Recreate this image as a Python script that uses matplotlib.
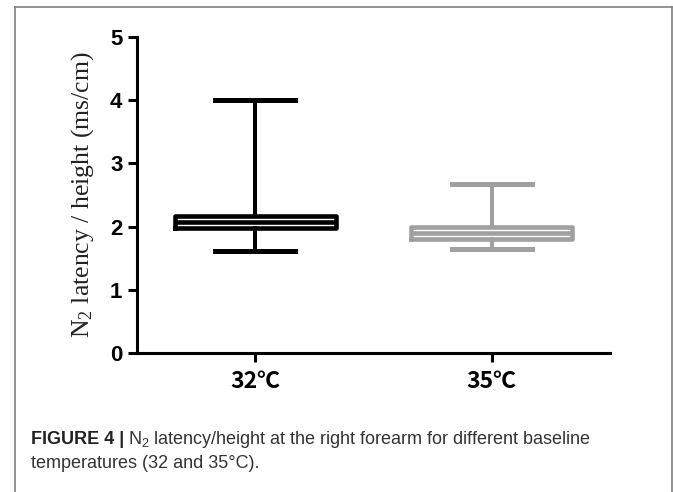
import matplotlib
matplotlib.use("Agg")
import matplotlib.pyplot as plt
from matplotlib.lines import Line2D

# ---- data ----
categories = ["32℃", "35℃"]
whisker_low = [1.62, 1.65]
q1 = [1.985, 1.81]
median = [2.075, 1.905]
q3 = [2.165, 1.995]
whisker_high = [4.00, 2.67]
colors = ["#000000", "#a0a0a0"]
yticks = [0, 1, 2, 3, 4, 5]

W, H = 673, 492
fig = plt.figure(figsize=(W / 100, H / 100), dpi=100)

ax = fig.add_axes([137 / W, (H - 353) / H, (610 - 137) / W, (353 - 37) / H])

for i in range(len(categories)):
    stats = [dict(med=median[i], q1=q1[i], q3=q3[i],
                  whislo=whisker_low[i], whishi=whisker_high[i], fliers=[])]
    c = colors[i]
    ax.bxp(stats, positions=[i], widths=0.68, showfliers=False,
           boxprops=dict(color=c, linewidth=3.3),
           medianprops=dict(color=c, linewidth=3.3, solid_capstyle="butt"),
           whiskerprops=dict(color=c, linewidth=2.9),
           capprops=dict(color=c, linewidth=3.6),
           capwidths=0.3375)

ax.set_xlim(-0.5, 1.5)
ax.set_ylim(0, 5)
ax.set_yticks(yticks)
ax.set_yticklabels([str(v) for v in yticks], fontsize=16, fontweight="bold",
                   family="Liberation Sans")
ax.set_xticks(range(len(categories)))
ax.set_xticklabels(categories, fontsize=16.5, fontweight="bold",
                   family=["Noto Sans CJK SC", "DejaVu Sans"])
ax.tick_params(axis="y", length=6.5, width=2.2, pad=4)
ax.tick_params(axis="x", length=6.5, width=2.2, pad=6)
for s in ["top", "right"]:
    ax.spines[s].set_visible(False)
for s in ["left", "bottom"]:
    ax.spines[s].set_linewidth(2.2)

ax.set_ylabel(r"$\mathregular{N_2}$ latency / height (ms/cm)", family="Liberation Serif",
              fontsize=18.5, color="#222222", labelpad=10)

# ---- figure border ----
bc = "#808080"
fig.add_artist(Line2D([14.5 / W, 14.5 / W], [0, (H - 7) / H], color=bc, lw=1.2,
                      transform=fig.transFigure))
fig.add_artist(Line2D([14.5 / W, 671.5 / W], [(H - 7) / H, (H - 7) / H], color=bc, lw=1.2,
                      transform=fig.transFigure))
fig.add_artist(Line2D([671.5 / W, 671.5 / W], [0, (H - 7) / H], color=bc, lw=1.2,
                      transform=fig.transFigure))

# ---- caption ----
cap_fs = 13
t1 = fig.text(31 / W, (H - 440) / H, "FIGURE 4 |", fontsize=cap_fs, fontweight="bold",
              family="Liberation Sans", color="#222222", va="center")
fig.canvas.draw()
r = fig.canvas.get_renderer()
bb = t1.get_window_extent(r)
fig.text((bb.x1 + 4) / W, (H - 440) / H,
         r"$\mathregular{N_2}$ latency/height at the right forearm for different baseline",
         fontsize=cap_fs, family="Liberation Sans", color="#333333", va="center")
fig.text(31 / W, (H - 463) / H, "temperatures (32 and 35°C).", fontsize=cap_fs,
         family="Liberation Sans", color="#333333", va="center")

fig.savefig("out.png", dpi=100)
